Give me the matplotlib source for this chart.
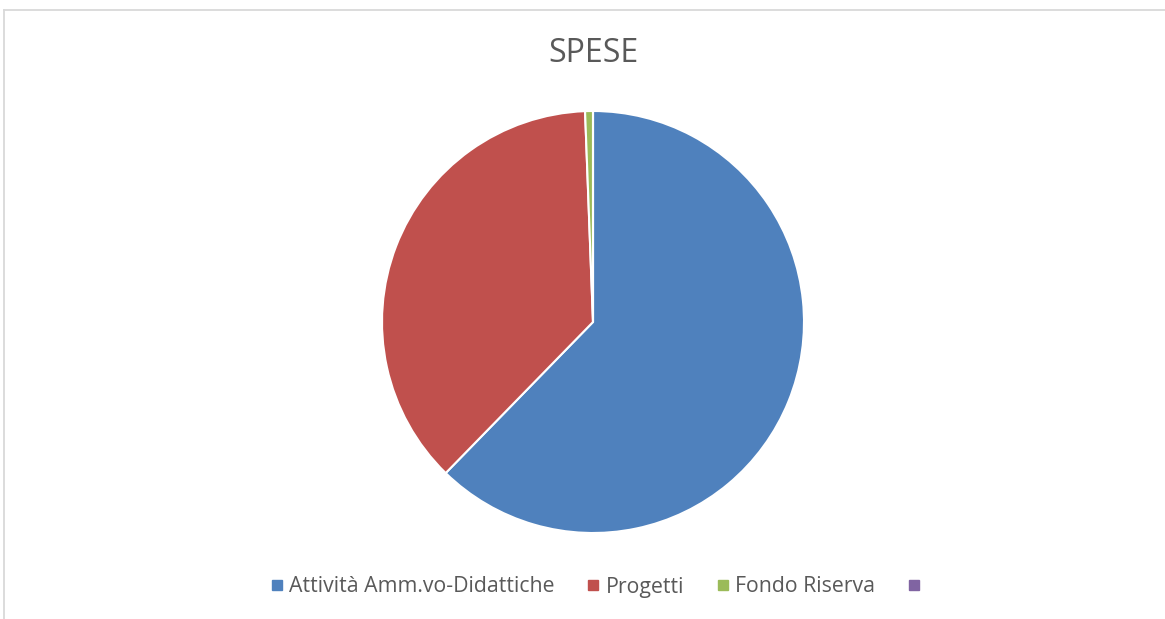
import matplotlib
matplotlib.use("Agg")
import matplotlib.pyplot as plt
from matplotlib.lines import Line2D

labels = ["Attività Amm.vo-Didattiche", "Progetti", "Fondo Riserva", ""]
values = [62.3, 37.1, 0.6, 0.0]
colors = ["#4f81bd", "#c0504d", "#9bbb59", "#8064a2"]
title = "SPESE"

plt.rcParams['font.family'] = ['Open Sans', 'DejaVu Sans']

W, H = 1165, 619
fig = plt.figure(figsize=(W/100, H/100), dpi=100)

# outer frame (top and left edges only visible)
frame_col = "#d9d9d9"
fig.add_artist(Line2D([3.5/W, 1.0], [1 - 9.5/H, 1 - 9.5/H], transform=fig.transFigure,
                      color=frame_col, linewidth=1.3))
fig.add_artist(Line2D([3.5/W, 3.5/W], [0.0, 1 - 9.5/H], transform=fig.transFigure,
                      color=frame_col, linewidth=1.3))

cx, cy, r = 593, 322, 211
ax = fig.add_axes([(cx - r)/W, (H - cy - r)/H, 2*r/W, 2*r/H])
ax.pie(values, colors=colors, startangle=90, counterclock=False,
       wedgeprops=dict(edgecolor="white", linewidth=1.5))
ax.set_xlim(-1, 1)
ax.set_ylim(-1, 1)
ax.set_aspect("equal")
ax.set_frame_on(False)

fig.text(cx/W, 1 - 53/H, title, ha="center", va="center", fontsize=23, color="#595959")

handles = [Line2D([], [], marker="s", linestyle="none", markersize=7,
                  markerfacecolor=c, markeredgecolor=c) for c in colors]
fig.legend(handles, labels, loc="center", bbox_to_anchor=(0.5 + 16/W, 1 - 587/H), ncol=4,
           frameon=False, fontsize=15.3, labelcolor="#595959", handlelength=0.55,
           handletextpad=0.3, columnspacing=1.55)

fig.savefig("out.png", dpi=100)
